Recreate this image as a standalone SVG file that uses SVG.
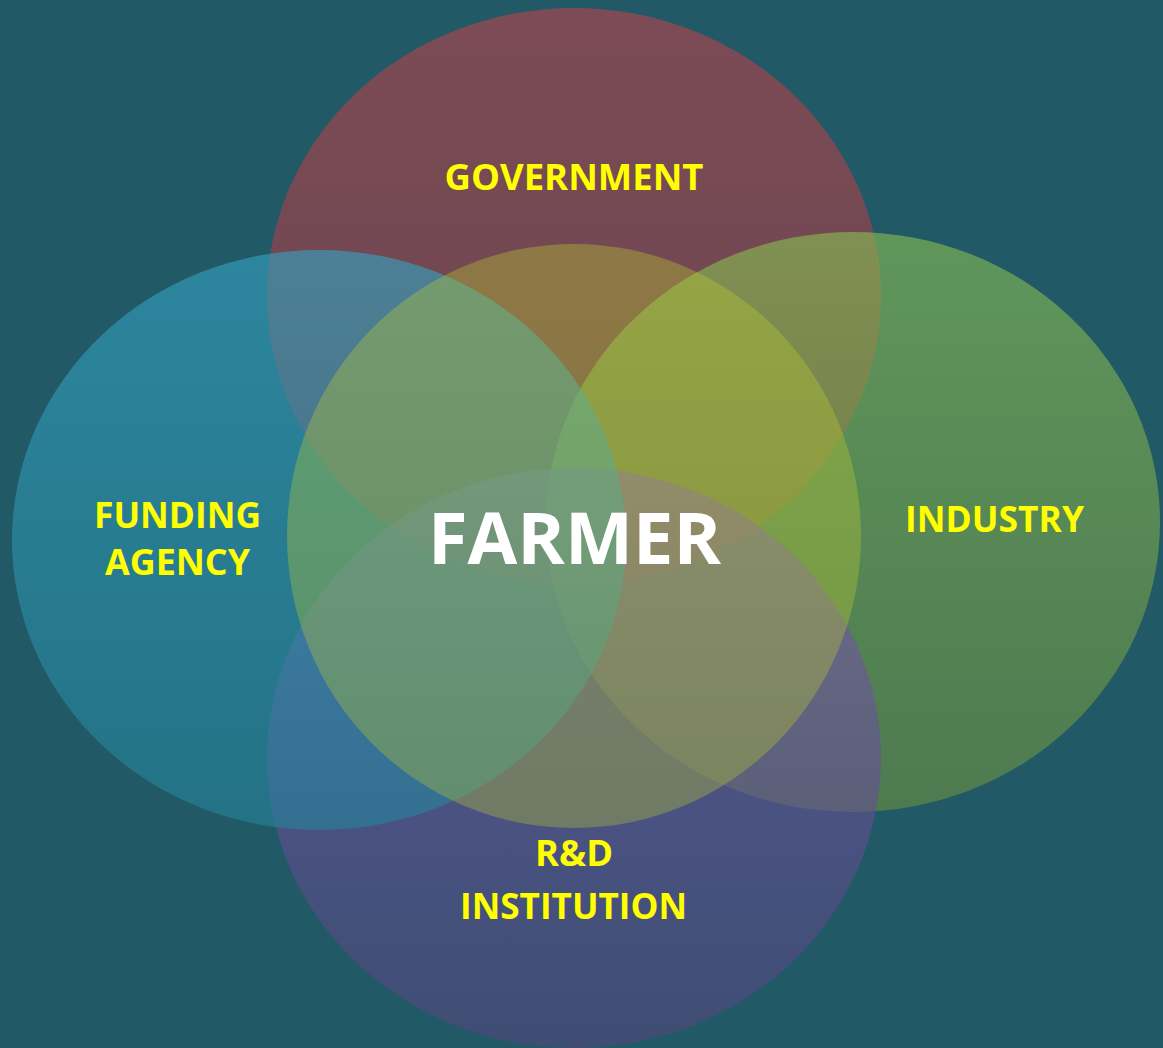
<svg xmlns="http://www.w3.org/2000/svg" width="1163" height="1048" viewBox="0 0 1163 1048">
<defs>
<linearGradient id="gGov" x1="0" y1="0" x2="0" y2="1"><stop offset="0" stop-color="#b9424a"/><stop offset="1" stop-color="#96373f"/></linearGradient>
<linearGradient id="gInd" x1="0" y1="0" x2="0" y2="1"><stop offset="0" stop-color="#89bf52"/><stop offset="1" stop-color="#6b9041"/></linearGradient>
<linearGradient id="gRD" x1="0" y1="0" x2="0" y2="1"><stop offset="0" stop-color="#7e59b3"/><stop offset="1" stop-color="#52457d"/></linearGradient>
<linearGradient id="gFund" x1="0" y1="0" x2="0" y2="1"><stop offset="0" stop-color="#33a4c3"/><stop offset="1" stop-color="#25839b"/></linearGradient>
<linearGradient id="gFarm" x1="0" y1="0" x2="0" y2="1"><stop offset="0" stop-color="#bccc2e"/><stop offset="1" stop-color="#b4c232"/></linearGradient>
</defs>
<style>
.c{fill-opacity:0.6}
.f{fill-opacity:0.36}
.lbl{font-family:"Open Sans","Liberation Sans",sans-serif;font-weight:bold;font-size:36px;fill:#ffff00;text-anchor:middle}
.big{font-family:"Open Sans","Liberation Sans",sans-serif;font-weight:bold;font-size:71px;fill:#ffffff;text-anchor:middle}
</style>
<rect width="1163" height="1048" fill="#225966"/>
<g id="government">
<ellipse class="c" cx="574" cy="296" rx="307" ry="288" fill="url(#gGov)"/>
<text class="lbl" x="574" y="190" textLength="259" lengthAdjust="spacingAndGlyphs">GOVERNMENT</text>
</g>
<g id="industry">
<ellipse class="c" cx="853" cy="522" rx="307" ry="290" fill="url(#gInd)"/>
<text class="lbl" x="994.5" y="532" textLength="179" lengthAdjust="spacingAndGlyphs">INDUSTRY</text>
</g>
<g id="rd-institution">
<ellipse class="c" cx="574" cy="758" rx="307" ry="290" fill="url(#gRD)"/>
<text class="lbl" x="574" y="866" textLength="78" lengthAdjust="spacingAndGlyphs">R&amp;D</text>
<text class="lbl" x="573.5" y="919" textLength="227" lengthAdjust="spacingAndGlyphs">INSTITUTION</text>
</g>
<g id="funding-agency">
<ellipse class="c" cx="319" cy="540" rx="307" ry="290" fill="url(#gFund)"/>
<text class="lbl" x="177.5" y="528" textLength="167" lengthAdjust="spacingAndGlyphs">FUNDING</text>
<text class="lbl" x="177.5" y="575" textLength="145" lengthAdjust="spacingAndGlyphs">AGENCY</text>
</g>
<g id="farmer">
<ellipse class="f" cx="574" cy="536" rx="287" ry="292" fill="url(#gFarm)"/>
<text class="big" x="574.5" y="564" textLength="293" lengthAdjust="spacingAndGlyphs">FARMER</text>
</g>
<g id="connectors"/>
</svg>
